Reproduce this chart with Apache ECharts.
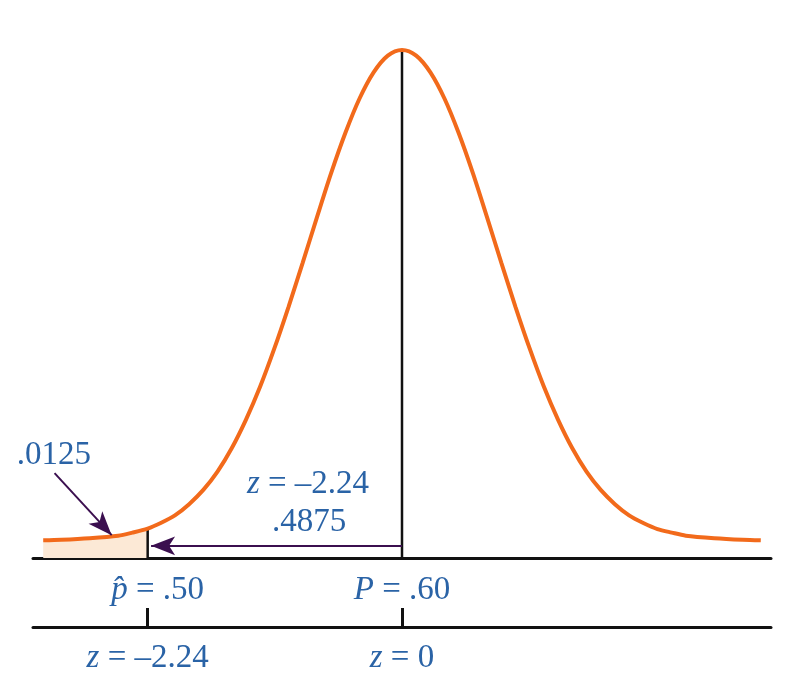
<!DOCTYPE html>
<html>
<head>
<meta charset="utf-8">
<script src="https://cdn.jsdelivr.net/npm/echarts@6/dist/echarts.min.js"></script>
<style>
  html, body { margin: 0; padding: 0; background: #fff; }
  #chart { width: 785px; height: 697px; }
</style>
</head>
<body>
<div id="chart"></div>
<script>
// curve, x in z units, y relative to the peak height
const curveZ = [-3.16, -3, -2.75, -2.5, -2.375, -2.24, -2.125, -2, -1.875, -1.75, -1.625, -1.5, -1.375,
  -1.25, -1.125, -1, -0.875, -0.75, -0.625, -0.5, -0.375, -0.25, -0.125, 0,
  0.125, 0.25, 0.375, 0.5, 0.625, 0.75, 0.875, 1, 1.125, 1.25, 1.375, 1.5, 1.625, 1.75, 1.875,
  2, 2.125, 2.25, 2.375, 2.5, 2.75, 3, 3.16];
const curveY = [0.035, 0.036, 0.039, 0.044, 0.050, 0.058, 0.069, 0.084, 0.106, 0.134, 0.170, 0.216, 0.272,
  0.337, 0.412, 0.494, 0.581, 0.670, 0.757, 0.836, 0.904, 0.956, 0.989, 1,
  0.989, 0.956, 0.904, 0.836, 0.757, 0.670, 0.581, 0.494, 0.412, 0.337, 0.272, 0.216, 0.170, 0.134, 0.106,
  0.084, 0.069, 0.057, 0.050, 0.044, 0.039, 0.036, 0.035];
const shadeCount = 6; // points up to z = -2.24
const markZ = [-2.24, 0];
const topLabels = ['p̂ = .50', 'P = .60'];
const bottomLabels = ['z = –2.24', 'z = 0'];
const tailArea = '.0125';
const midArea = '.4875';
const arrowLevel = 0.024;

const blue = '#2a63a6';
const purple = '#3b0f4f';
const serif = 'Liberation Serif';
const fs = 33;

const curve = curveZ.map((z, i) => [z, curveY[i]]);
const shade = curve.slice(0, shadeCount);

const rich = {
  i: { fontStyle: 'italic', fontFamily: serif, fontSize: fs, color: blue },
  n: { fontFamily: serif, fontSize: fs, color: blue },
  s: { width: 20 }
};
function richLabel(s) {
  // first token is an italic variable
  const parts = s.split(' ');
  return '{i|' + parts[0] + '}{n| ' + parts.slice(1).join(' ') + '}';
}

const chart = echarts.init(document.getElementById('chart'));
chart.setOption({
  animation: false,
  grid: [
    { left: 33, width: 738, top: 50, height: 508 },
    { left: 33, width: 738, top: 590, height: 37 }
  ],
  xAxis: [
    {
      type: 'value', min: -3.25, max: 3.25, gridIndex: 0,
      splitLine: { show: false },
      axisLine: { onZero: false, lineStyle: { color: '#111', width: 3 } },
      axisTick: { show: false },
      axisLabel: {
        customValues: markZ, margin: 16, rich: rich,
        formatter: v => {
          const k = markZ.indexOf(v);
          return (k === 0 ? '{s|}' : '') + richLabel(topLabels[k]);
        }
      }
    },
    {
      type: 'value', min: -3.25, max: 3.25, gridIndex: 1,
      splitLine: { show: false },
      axisLine: { onZero: false, lineStyle: { color: '#111', width: 3 } },
      axisTick: { show: true, inside: true, length: 19, customValues: markZ, lineStyle: { color: '#111', width: 3 } },
      axisLabel: {
        customValues: markZ, margin: 15, rich: rich,
        formatter: v => richLabel(bottomLabels[markZ.indexOf(v)])
      }
    }
  ],
  yAxis: [
    { type: 'value', min: 0, max: 1, gridIndex: 0, show: false },
    { type: 'value', min: 0, max: 1, gridIndex: 1, show: false }
  ],
  series: [
    {
      type: 'line', data: shade, smooth: 0.3, symbol: 'none',
      lineStyle: { width: 0 }, areaStyle: { color: '#fce9d6', opacity: 1 }, z: 1
    },
    {
      type: 'line', data: curve, smooth: 0.3, symbol: 'none',
      lineStyle: { color: '#f26a1b', width: 4 }, z: 3
    },
    {
      type: 'line', data: [[markZ[1], 0], [markZ[1], 1]], symbol: 'none',
      lineStyle: { color: '#111', width: 2.5 }, z: 2
    },
    {
      type: 'line', data: [[markZ[0], 0], [markZ[0], curveY[shadeCount - 1]]], symbol: 'none',
      lineStyle: { color: '#111', width: 2.5 }, z: 2,
      markLine: {
        silent: true, animation: false,
        lineStyle: { color: purple, width: 2, type: 'solid' },
        label: { show: false },
        data: [
          [
            { coord: [markZ[1], arrowLevel], symbol: 'none' },
            { coord: [markZ[0] + 0.03, arrowLevel], symbol: 'arrow', symbolSize: [14, 24] }
          ],
          [
            { coord: [-3.06, 0.167], symbol: 'none' },
            { coord: [-2.557, 0.045], symbol: 'arrow', symbolSize: [14, 24] }
          ]
        ]
      },
      markPoint: {
        symbol: 'circle', symbolSize: 0, silent: true,
        label: { show: true, rich: rich },
        data: [
          { coord: [-3.066, 0.203], label: { formatter: '{n|' + tailArea + '}' } },
          { coord: [-0.828, 0.146], label: { formatter: richLabel(bottomLabels[0]) } },
          { coord: [-0.819, 0.071], label: { formatter: '{n|' + midArea + '}' } }
        ]
      }
    }
  ]
});
</script>
</body>
</html>
